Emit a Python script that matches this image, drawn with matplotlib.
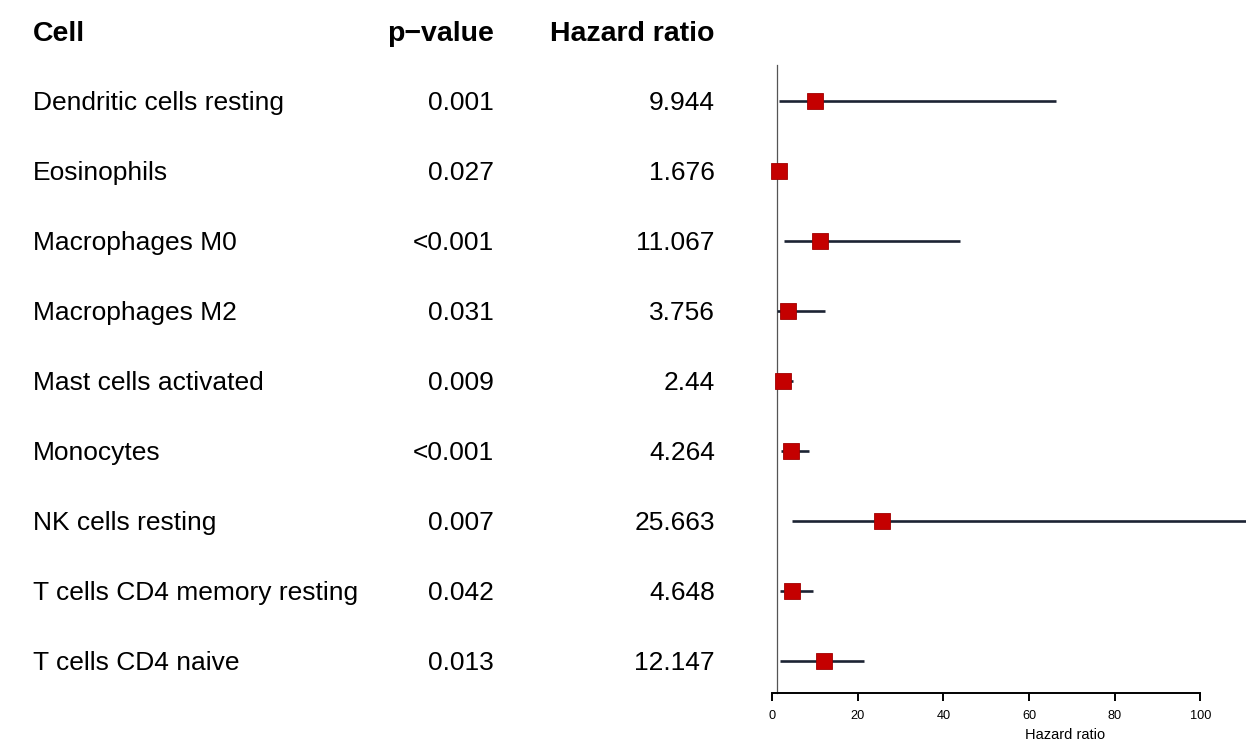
import matplotlib
matplotlib.use('Agg')
import matplotlib.pyplot as plt
from matplotlib.transforms import blended_transform_factory

plt.rcParams.update({
    'font.family': ['Liberation Sans', 'DejaVu Sans'],
    'axes.linewidth': 1.4,
})

# values
cells = ['Dendritic cells resting', 'Eosinophils', 'Macrophages M0',
         'Macrophages M2', 'Mast cells activated', 'Monocytes',
         'NK cells resting', 'T cells CD4 memory resting', 'T cells CD4 naive']
pvals = ['0.001', '0.027', '<0.001', '0.031', '0.009', '<0.001',
         '0.007', '0.042', '0.013']
hr = [9.944, 1.676, 11.067, 3.756, 2.44, 4.264, 25.663, 4.648, 12.147]
hr_low = [1.49, 1.06, 2.8, 1.13, 1.25, 2.1, 4.6, 1.9, 1.7]
hr_high = [66.3, 2.65, 43.8, 12.4, 4.8, 8.6, 140.0, 9.5, 21.5]
xticks = [0, 20, 40, 60, 80, 100]

W, H = 1246, 749
fig = plt.figure(figsize=(W / 100, H / 100), dpi=100)

# forest panel: right part of figure, full height, rows at y = 0..8
x_left_px = 740.2
ax = fig.add_axes([x_left_px / W, 0, 1 - x_left_px / W, 1])
ax.set_xlim(-7.5, 110.7)
ax.set_ylim(9.257, -1.443)

rows = list(range(len(cells)))
ax.plot([1, 1], [-0.514, 8.457], color='#555555', lw=0.9, zorder=1)
ax.hlines(rows, hr_low, hr_high, color='#1c2333', lw=1.9, zorder=2)
ax.plot(hr, rows, ls='none', marker='s', ms=11.5, mfc='#c40000',
        mec='#a00000', mew=0.6, zorder=3)

for s in ['top', 'right', 'left']:
    ax.spines[s].set_visible(False)
ax.spines['bottom'].set_position(('data', 8.457))
ax.spines['bottom'].set_bounds(0, 100)
ax.set_yticks([])
ax.set_xticks(xticks)
ax.tick_params(axis='x', direction='out', length=6, width=1.4, labelsize=9.2, pad=6)
ax.text(68.4, 9.05, 'Hazard ratio', ha='center', va='center', fontsize=10.5)

# table on the left
tr = blended_transform_factory(fig.transFigure, ax.transData)
hdr_y = -0.857
FS = 19
FS_HDR = 20.5
ax.text(33 / W, hdr_y, 'Cell', transform=tr, fontsize=FS_HDR, fontweight='bold',
        ha='left', va='baseline', clip_on=False)
ax.text(494 / W, hdr_y, 'p\u2212value', transform=tr, fontsize=FS_HDR, fontweight='bold',
        ha='right', va='baseline', clip_on=False)
ax.text(715 / W, hdr_y, 'Hazard ratio', transform=tr, fontsize=FS_HDR, fontweight='bold',
        ha='right', va='baseline', clip_on=False)

for i, (c, p, h) in enumerate(zip(cells, pvals, hr)):
    yb = i + 0.135
    ax.text(33 / W, yb, c, transform=tr, fontsize=FS, ha='left',
            va='baseline', clip_on=False)
    ax.text(494 / W, yb, p, transform=tr, fontsize=FS, ha='right',
            va='baseline', clip_on=False)
    ax.text(715 / W, yb, f'{h:g}', transform=tr, fontsize=FS, ha='right',
            va='baseline', clip_on=False)

fig.savefig('out.png', dpi=100, facecolor='white')
